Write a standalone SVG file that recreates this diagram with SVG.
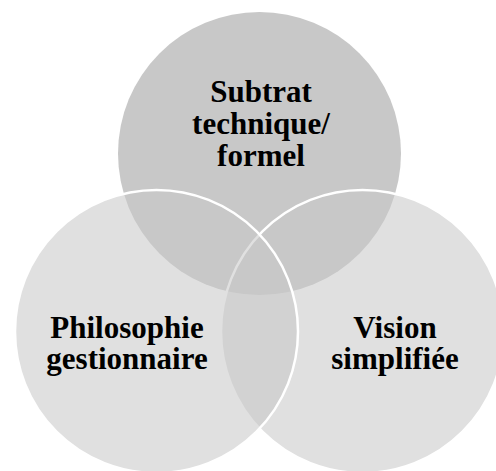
<svg xmlns="http://www.w3.org/2000/svg" width="496" height="471" viewBox="0 0 496 471">
  <style>
    .top { fill: #c8c8c8; stroke: none; }
    .side { fill: #c8c8c8; fill-opacity: 0.56; stroke: #ffffff; stroke-width: 2.5; }
    .lbl { font-family: "Liberation Serif", "Times New Roman", serif; font-weight: bold; font-size: 31px; fill: #000000; text-anchor: middle; }
  </style>
  <rect x="0" y="0" width="496" height="471" fill="#ffffff"/>
  <g id="node-subtrat">
    <circle class="top" cx="259.5" cy="153.5" r="141.5"/>
    <text class="lbl" x="261" y="102">Subtrat</text>
    <text class="lbl" x="261" y="134">technique/</text>
    <text class="lbl" x="261" y="166">formel</text>
  </g>
  <g id="node-vision">
    <circle class="side" cx="362.5" cy="331.5" r="141.5"/>
    <text class="lbl" x="395" y="338">Vision</text>
    <text class="lbl" x="395" y="369">simplifiée</text>
  </g>
  <g id="node-philosophie">
    <circle class="side" cx="156.5" cy="331.5" r="141.5"/>
    <text class="lbl" x="127" y="338">Philosophie</text>
    <text class="lbl" x="127" y="369">gestionnaire</text>
  </g>
</svg>
